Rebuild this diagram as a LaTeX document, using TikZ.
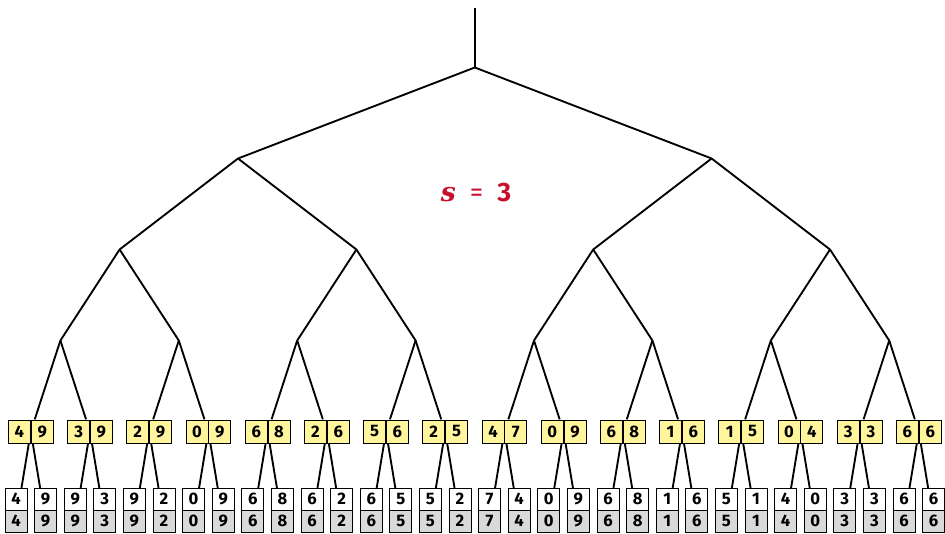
\documentclass[tikz,border=0pt]{standalone}
\usepackage{fontspec}
\setmainfont{Fira Sans}
\newfontfamily\sfamserif{DejaVu Serif}
\usetikzlibrary{backgrounds,fit}
\definecolor{boxyellow}{HTML}{FFF59D}
\definecolor{leafgray}{HTML}{D9D9D9}
\definecolor{labelred}{HTML}{C8102E}
\begin{document}
\begin{tikzpicture}[x=0.75pt,y=-0.75pt,
  edge/.style={line width=1.4pt, black},
  cell/.style={draw=black, line width=0.6pt, minimum width=16.5pt, minimum height=16.5pt, inner sep=0pt, font=\fontsize{12.5}{12.5}\selectfont\bfseries},
  ycell/.style={cell, fill=boxyellow, minimum height=17.25pt},
  wcell/.style={cell, fill=white},
  gcell/.style={cell, fill=leafgray}]
\useasboundingbox (0,0) rectangle (945,534);
% leaves
\foreach \v [count=\i from 0] in {4,9,9,3,9,2,0,9,6,8,6,2,6,5,5,2,7,4,0,9,6,8,1,6,5,1,4,0,3,3,6,6} {
  \node[wcell] (w\i) at ({16+29.6*\i},499) {\v};
  \node[gcell] (g\i) at ({16+29.6*\i},521) {\v};
}
% pairs
\foreach \a/\b [count=\j from 0] in {4/9,3/9,2/9,0/9,6/8,2/6,5/6,2/5,4/7,0/9,6/8,1/6,1/5,0/4,3/3,6/6} {
  \node[ycell, anchor=east] (pl\j) at ({30.8+59.2*\j},431.5) {\a};
  \node[ycell, anchor=west] (pr\j) at ({30.8+59.2*\j},431.5) {\b};
  \node[fit=(pl\j)(pr\j), inner sep=0pt] (p\j) {};
}
% internal nodes
\foreach \k in {0,...,7} { \coordinate (a\k) at ({60.4+118.4*\k},340.5); }
\foreach \k in {0,...,3} { \coordinate (b\k) at ({119.6+236.8*\k},249.5); }
\foreach \k in {0,1} { \coordinate (c\k) at ({238+473.6*\k},158.5); }
\coordinate (root) at (474.8,67.5);
\coordinate (top) at (474.8,8);
\begin{scope}[on background layer]
  \draw[edge] (top) -- (root);
  \draw[edge] (root) -- (c0);
  \draw[edge] (root) -- (c1);
  \foreach \k in {0,1} {
    \pgfmathtruncatemacro\l{2*\k}\pgfmathtruncatemacro\r{2*\k+1}
    \draw[edge] (c\k) -- (b\l); \draw[edge] (c\k) -- (b\r);
  }
  \foreach \k in {0,...,3} {
    \pgfmathtruncatemacro\l{2*\k}\pgfmathtruncatemacro\r{2*\k+1}
    \draw[edge] (b\k) -- (a\l); \draw[edge] (b\k) -- (a\r);
  }
  \foreach \k in {0,...,7} {
    \pgfmathtruncatemacro\l{2*\k}\pgfmathtruncatemacro\r{2*\k+1}
    \draw[edge] (a\k) -- (p\l); \draw[edge] (a\k) -- (p\r);
  }
  \foreach \k in {0,...,15} {
    \pgfmathtruncatemacro\l{2*\k}\pgfmathtruncatemacro\r{2*\k+1}
    \draw[edge] (p\k) -- (g\l); \draw[edge] (p\k) -- (g\r);
  }
\end{scope}
\node[text=labelred, font=\fontsize{20}{20}\selectfont] (s) at (476,193) {{\sfamserif\bfseries\itshape s}\ \ =\ \ {\bfseries 3}};
\end{tikzpicture}
\end{document}
